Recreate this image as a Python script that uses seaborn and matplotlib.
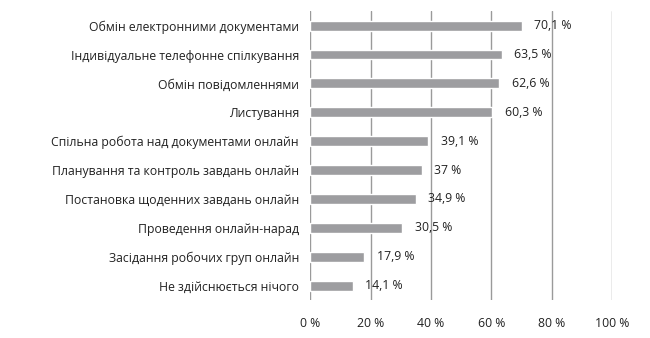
import matplotlib
matplotlib.use("Agg")
import matplotlib.pyplot as plt
import seaborn as sns
import pandas as pd

categories = [
    "Обмін електронними документами",
    "Індивідуальне телефонне спілкування",
    "Обмін повідомленнями",
    "Листування",
    "Спільна робота над документами онлайн",
    "Планування та контроль завдань онлайн",
    "Постановка щоденних завдань онлайн",
    "Проведення онлайн-нарад",
    "Засідання робочих груп онлайн",
    "Не здійснюється нічого",
]
values = [70.1, 63.5, 62.6, 60.3, 39.1, 37, 34.9, 30.5, 17.9, 14.1]
value_labels = ["70,1 %", "63,5 %", "62,6 %", "60,3 %", "39,1 %", "37 %", "34,9 %", "30,5 %", "17,9 %", "14,1 %"]
xticks = [0, 20, 40, 60, 80, 100]
xtick_labels = ["0 %", "20 %", "40 %", "60 %", "80 %", "100 %"]

sns.set_theme(style="white")
plt.rcParams['font.family'] = ['Open Sans', 'DejaVu Sans']

df = pd.DataFrame({"cat": categories, "val": values})

fig = plt.figure(figsize=(6.5, 3.38), dpi=100)
ax = fig.add_axes([0.477, 0.112, 0.465, 0.855])

sns.barplot(data=df, x="val", y="cat", color="#9d9da0", saturation=1, width=0.34, ax=ax, zorder=3)

ax.set_xlim(0, 100)
ax.set_ylim(9.5, -0.5)
ax.set_xticks(xticks)
ax.set_xticklabels(xtick_labels, fontsize=8.8, color="#222222")
ax.set_xlabel("")
ax.set_ylabel("")
ax.tick_params(axis="y", labelsize=8.8, colors="#222222", length=0, pad=8)
ax.tick_params(axis="x", length=0, pad=12)
for s in ax.spines.values():
    s.set_visible(False)
ax.grid(axis="x", color="#9a9a9a", linewidth=1, zorder=0)
ax.grid(axis="y", visible=False)

for i, (v, lab) in enumerate(zip(values, value_labels)):
    ax.annotate(lab, xy=(v, i), xytext=(9, 0), textcoords="offset points",
                va="center", ha="left", fontsize=8.8, color="#222222")

fig.savefig("out.png", dpi=100)
